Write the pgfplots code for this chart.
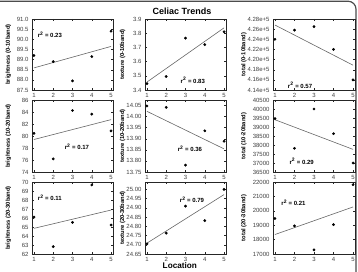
\documentclass[border=0pt]{standalone}
\usepackage{fontspec}
\setmainfont{Liberation Sans}
\usepackage{pgfplots}
\usepackage{pgfplotstable}
\pgfplotsset{compat=1.18}

% Measurements per location, three depth bands
\pgfplotstableread{
X b1    t1    tot1   b2    t2     tot2  b3    t3     tot3
1 89.20 3.445 424000 80.44 14.048 39464 66.10 24.705 19465
2 88.90 3.495 425800 76.18 14.042 37818 62.82 24.763 18948
3 87.95 3.765 426500 84.25 13.781 40000 65.52 24.909 17282
4 89.15 3.720 422000 83.65 13.936 38627 69.67 24.831 19042
5 90.40 3.810 416000 80.85 13.889 37000 65.22 25.000 21812
}\celiac

\tikzset{rsq/.style={font=\bfseries\fontsize{6}{7}\selectfont}}

\pgfplotsset{
  panel/.style={
    scale only axis, width=81pt, height=71pt, anchor=north west,
    xmin=0.9, xmax=5.1, xtick={1,2,3,4,5},
    tick align=inside, tick pos=both,
    xticklabel pos=lower, yticklabel pos=left,
    major tick length=2pt,
    axis line style={line width=0.6pt, black!85},
    tick style={black!85, line width=0.4pt},
    ticklabel style={font=\fontsize{6}{7}\selectfont, text=black!75},
    /pgf/number format/assume math mode=true,
    /pgf/number format/1000 sep={},
    ylabel style={font=\bfseries\fontsize{5.8}{6.5}\selectfont, anchor=center},
    clip=false,
  },
  c1/.style={ylabel style={at={(axis description cs:-0.293,0.5)}}},
  c2/.style={ylabel style={at={(axis description cs:-0.275,0.5)}}},
  c3/.style={ylabel style={at={(axis description cs:-0.354,0.5)}}},
  dec/.style={yticklabel style={/pgf/number format/fixed,
      /pgf/number format/fixed zerofill, /pgf/number format/precision=#1}},
  pts/.style={only marks, mark=*, mark size=1.2pt, black},
  fit/.style={no marks, line width=0.6pt, black!60},
}

\begin{document}
\begin{tikzpicture}
\clip (0,0) rectangle (358pt,-272pt);
\draw[line width=1.2pt, black!70, rounded corners=8pt] (-10pt,-1.2pt) rectangle (356pt,-290pt);

% ---- 0-10 band ----
\begin{axis}[panel, c1, at={(32pt,-19pt)}, ymin=87.5, ymax=91,
  ytick={87.5,88,...,91}, dec=1, ylabel={brightness (0-10band)}]
\addplot[fit] table[x=X, y={create col/linear regression={y=b1}}] {\celiac};
\addplot[pts] table[x=X, y=b1] {\celiac};
\node[rsq] at (rel axis cs:0.22,0.775) {r\textsuperscript{2} = 0.23};
\end{axis}

\begin{axis}[panel, c2, at={(145pt,-19pt)}, ymin=3.4, ymax=3.9,
  ytick={3.4,3.5,3.6,3.7,3.8,3.9}, dec=1, ylabel={texture (0-10band)}]
\addplot[fit] table[x=X, y={create col/linear regression={y=t1}}] {\celiac};
\addplot[pts] table[x=X, y=t1] {\celiac};
\node[rsq] at (rel axis cs:0.59,0.14) {r\textsuperscript{2} = 0.83};
\end{axis}

\begin{axis}[panel, c3, at={(273pt,-19pt)}, width=82pt, ymin=414000, ymax=428000,
  ytick={414000,416000,418000,420000,422000,424000,426000,428000},
  yticklabels={4.14e+5,4.16e+5,4.18e+5,4.20e+5,4.22e+5,4.24e+5,4.26e+5,4.28e+5},
  scaled y ticks=false, ylabel={total (0-10band)}]
\addplot[fit] table[x=X, y={create col/linear regression={y=tot1}}] {\celiac};
\addplot[pts] table[x=X, y=tot1] {\celiac};
\node[rsq] at (rel axis cs:0.33,0.07) {r\textsuperscript{2} = 0.57};
\end{axis}

% ---- 10-20 band ----
\begin{axis}[panel, c1, at={(32pt,-100pt)}, height=72pt, ymin=74, ymax=86,
  ytick={74,76,...,86}, ylabel={brightness (10-20band)}]
\addplot[fit] table[x=X, y={create col/linear regression={y=b2}}] {\celiac};
\addplot[pts] table[x=X, y=b2] {\celiac};
\node[rsq] at (rel axis cs:0.555,0.35) {r\textsuperscript{2} = 0.17};
\end{axis}

\begin{axis}[panel, c2, at={(145pt,-100pt)}, height=72pt, ymin=13.75, ymax=14.075,
  ytick={13.75,13.80,13.85,13.90,13.95,14.00,14.05}, dec=2,
  ylabel={texture (10-20band)}]
\addplot[fit] table[x=X, y={create col/linear regression={y=t2}}] {\celiac};
\addplot[pts] table[x=X, y=t2] {\celiac};
\node[rsq] at (rel axis cs:0.555,0.32) {r\textsuperscript{2} = 0.36};
\end{axis}

\begin{axis}[panel, c3, at={(273pt,-100pt)}, width=82pt, height=72pt,
  ymin=36500, ymax=40500, ytick={36500,37000,...,40500},
  scaled y ticks=false, ylabel={total (10-20band)}]
\addplot[fit] table[x=X, y={create col/linear regression={y=tot2}}] {\celiac};
\addplot[pts] table[x=X, y=tot2] {\celiac};
\node[rsq] at (rel axis cs:0.35,0.15) {r\textsuperscript{2} = 0.29};
\end{axis}

% ---- 20-30 band ----
\begin{axis}[panel, c1, at={(32pt,-182pt)}, height=72pt, ymin=62, ymax=70,
  ytick={62,63,...,70}, ylabel={brightness (20-30band)}]
\addplot[fit] table[x=X, y={create col/linear regression={y=b3}}] {\celiac};
\addplot[pts] table[x=X, y=b3] {\celiac};
\node[rsq] at (rel axis cs:0.22,0.78) {r\textsuperscript{2} = 0.11};
\end{axis}

\begin{axis}[panel, c2, at={(145pt,-182pt)}, height=72pt, ymin=24.65, ymax=25.04,
  ytick={24.65,24.70,24.75,24.80,24.85,24.90,24.95,25.00}, dec=2,
  ylabel={texture (20-30band)},
  xlabel={Location},
  xlabel style={font=\bfseries\fontsize{8.2}{9}\selectfont,
    at={(axis description cs:0.43,-0.167)}, anchor=center}]
\addplot[fit] table[x=X, y={create col/linear regression={y=t3}}] {\celiac};
\addplot[pts] table[x=X, y=t3] {\celiac};
\node[rsq] at (rel axis cs:0.58,0.75) {r\textsuperscript{2} = 0.79};
\end{axis}

\begin{axis}[panel, c3, at={(273pt,-182pt)}, width=82pt, height=72pt,
  ymin=17000, ymax=22000, ytick={17000,18000,...,22000},
  scaled y ticks=false, ylabel={total (20-30band)}]
\addplot[fit] table[x=X, y={create col/linear regression={y=tot3}}] {\celiac};
\addplot[pts] table[x=X, y=tot3] {\celiac};
\node[rsq] at (rel axis cs:0.25,0.71) {r\textsuperscript{2} = 0.21};
\end{axis}

\node[font=\bfseries\fontsize{9}{10}\selectfont] at (182pt,-11pt) {Celiac Trends};
\end{tikzpicture}
\end{document}
